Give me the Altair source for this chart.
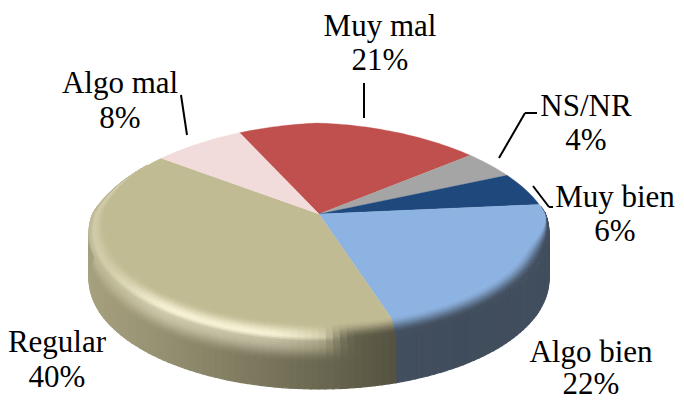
import math
import altair as alt

# ---- chart values ----
categories = ["Muy mal", "NS/NR", "Muy bien", "Algo bien", "Regular", "Algo mal"]
shares = [20.9, 4.4, 5.1, 21.9, 39.8, 7.9]
pct_labels = ["21%", "4%", "6%", "22%", "40%", "8%"]
colors = ["#C0504D", "#A5A5A5", "#1F497D", "#8DB3E2", "#C1BB93", "#F2DCDB"]

# ---- layout (page pixels) ----
W, H = 668, 393
OFF = 8
START = -24.7
CX, APEX_Y = 319.0, 214.0
A, B, K = 106.7, 226.5, 0.1727
DEPTH = 46.0
FONT = 31
label_pos = {
    "Muy mal": (380, 36, 34), "NS/NR": (586, 116, 34), "Muy bien": (615, 207, 34),
    "Algo bien": (591, 362, 32), "Regular": (57, 352, 35), "Algo mal": (120, 93, 35),
}
leaders = [
    [(364, 83), (364, 118)],
    [(181, 95), (187, 135)],
    [(499, 158), (525, 113), (537, 113)],
    [(533, 186), (549, 207), (553, 207)],
]


def rim(deg):
    r = math.radians(deg)
    u, v = math.sin(r), -math.cos(r)
    if v < 0:
        shrink = 1 - 0.045 * abs(2 * u * v)
        u, v = u * shrink, v * shrink
    d = 1 - K * v
    return CX + B * u / d, APEX_Y + A * v / d, u, v


def sstep(t):
    t = max(0.0, min(1.0, t))
    return t * t * (3 - 2 * t)


def inner(deg):
    x, y, u, v = rim(deg)
    lo = -0.3 + 0.25 * u
    w = sstep((v - lo) / 0.5)
    ix = CX + (x - CX) * 0.935
    iy = 123 + (y - 123) * 0.909
    return x + (ix - x) * w, y + (iy - y) * w, w


def rgb(h):
    return [int(h[i:i + 2], 16) for i in (1, 3, 5)]


def mix(a, b, t):
    return [a[i] + (b[i] - a[i]) * t for i in range(3)]


def to_hex(c):
    return "#%02x%02x%02x" % tuple(int(max(0, min(255, round(x)))) for x in c)


def wall_factor(x):
    pts = [(89, 0.86), (150, 0.79), (250, 0.65), (330, 0.54), (398, 0.44), (460, 0.43), (550, 0.44)]
    for (a, fa), (b, fb) in zip(pts, pts[1:]):
        if x <= b:
            return fa + (fb - fa) * max(0, (x - a)) / (b - a)
    return pts[-1][1]


def hilite(x):
    # strength of the lit band on the bevel: soft at the far left, peak at the front left, gone by the centre
    return max(0.0, 0.25 + 0.4 * sstep((x - 100) / 70) - 0.65 * sstep((x - 260) / 110))


def wall_col(base, x):
    f = wall_factor(x)
    dark = [c * f for c in base]
    grey = sum(dark) / 3
    return mix(dark, [grey] * 3, 0.25 * sstep((x - 380) / 30))


def bevel_col(base, x, s):
    wall = wall_col(base, x)
    h = hilite(x)
    light = mix(base, [255, 252, 225], h * 1.3)
    rim_end = mix(light, wall, 0.45)
    if s < 0.7:
        lit = mix(base, light, sstep(s / 0.7))
    else:
        lit = mix(light, rim_end, sstep((s - 0.7) / 0.3))
    shaded = mix(base, wall, sstep(s / 0.85))
    return mix(shaded, lit, sstep(h / 0.3))


def poly(pts, fill):
    ring = [[round(x - OFF, 2), round(y - OFF, 2)] for x, y in pts]
    ring.append(ring[0])
    return {"type": "Feature", "properties": {"fill": fill},
            "geometry": {"type": "Polygon", "coordinates": [ring]}}


total = sum(shares)
bounds = [START]
for s in shares:
    bounds.append(bounds[-1] + s / total * 360)

walls, bevels, faces = [], [], []
STEP = 1.5
BEVEL_N = 12
WALL_N = 23
for i, col in enumerate(colors):
    base = rgb(col)
    a0, a1 = bounds[i], bounds[i + 1]
    n = max(1, int((a1 - a0) / STEP))
    angs = [a0 + (a1 - a0) * j / n for j in range(n + 1)]
    faces.append(poly([(CX, APEX_Y)] + [inner(a)[:2] for a in angs], col))
    for p, q in zip(angs, angs[1:]):
        xp, yp, _, vp = rim(p)
        xq, yq, _, vq = rim(q)
        xm = (xp + xq) / 2
        if max(vp, vq) > -0.05:
            end = bevel_col(base, xm, 1.0)
            wall = wall_col(base, xm)
            for k in range(WALL_N):
                d0, d1 = DEPTH * k / WALL_N, DEPTH * (k + 1) / WALL_N
                c = mix(end, wall, sstep((k + 0.5) / WALL_N / 0.45))
                walls.append(poly([(xp, yp + d0), (xq, yq + d0), (xq, yq + d1), (xp, yp + d1)], to_hex(c)))
        ip, iq = inner(p), inner(q)
        if max(ip[2], iq[2]) > 0.005:
            for k in range(BEVEL_N):
                s0, s1 = k / BEVEL_N, (k + 1) / BEVEL_N
                pts = [(ip[0] + (xp - ip[0]) * s0, ip[1] + (yp - ip[1]) * s0),
                       (iq[0] + (xq - iq[0]) * s0, iq[1] + (yq - iq[1]) * s0),
                       (iq[0] + (xq - iq[0]) * s1, iq[1] + (yq - iq[1]) * s1),
                       (ip[0] + (xp - ip[0]) * s1, ip[1] + (yp - ip[1]) * s1)]
                bevels.append(poly(pts, to_hex(bevel_col(base, xm, (s0 + s1) / 2))))


def shape_layer(features, sw):
    return alt.Chart(alt.Data(values=features)).mark_geoshape(strokeWidth=sw).encode(
        fill=alt.Fill("properties.fill:N", scale=None),
        stroke=alt.Stroke("properties.fill:N", scale=None),
    ).project(type="identity", scale=1, translate=[0, 0])


layers = [shape_layer(walls, 1.2), shape_layer(bevels, 1.0), shape_layer(faces, 0.3)]

for pts in leaders:
    for (x1, y1), (x2, y2) in zip(pts, pts[1:]):
        layers.append(alt.Chart(alt.Data(values=[{"a": 1}])).mark_rule(color="black", strokeWidth=2).encode(
            x=alt.value(x1 - OFF), x2=alt.value(x2 - OFF), y=alt.value(y1 - OFF), y2=alt.value(y2 - OFF)))

for name, pct in zip(categories, pct_labels):
    x, y, gap = label_pos[name]
    for line, yy in ((name, y), (pct, y + gap)):
        layers.append(alt.Chart(alt.Data(values=[{"t": line}])).mark_text(
            font="Liberation Serif", fontSize=FONT, color="black", baseline="alphabetic", align="center"
        ).encode(x=alt.value(x - OFF), y=alt.value(yy - OFF), text="t:N"))

chart = alt.layer(*layers).properties(
    width=W, height=H, padding=0, autosize=alt.AutoSizeParams(type="none")
).configure_view(stroke=None)

chart.save("out.html", embed_options={"renderer": "svg", "actions": False})
